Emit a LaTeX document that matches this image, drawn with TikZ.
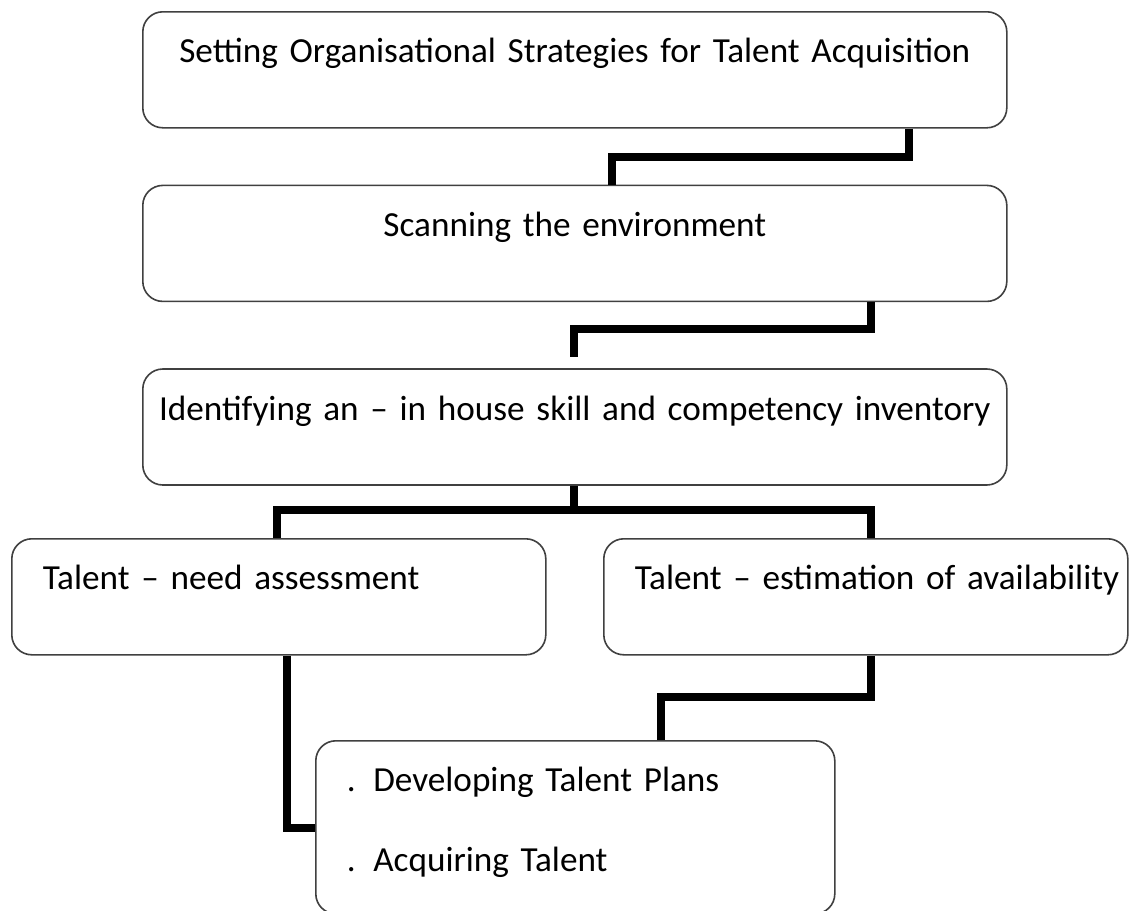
\documentclass[tikz,border=0pt]{standalone}
\usepackage{fontspec}
\setmainfont{Carlito}
\usepackage{tikz}
\usetikzlibrary{positioning}

\begin{document}
\begin{tikzpicture}[x=0.5pt, y=-0.5pt, line join=miter]
        % Estilos para las cajas y las conexiones
        \tikzstyle{stepbox} = [draw=black!75, line width=0.8pt, rounded corners=10pt, inner ysep=0pt, font=\fontsize{17.6}{22}\selectfont, text height=25.5pt, text depth=32.5pt]
        \tikzstyle{wide} = [text width=420pt, inner xsep=6pt, align=center]
        \tikzstyle{side} = [inner xsep=15.5pt, align=left]
        \tikzstyle{link} = [draw, line width=3.7pt]

        \clip (0,0) rectangle (1129,910);
        \fill [white] (0,0) rectangle (1129,910);

        % Nodes
        \node [stepbox, wide, anchor=north west] at (142,11) (box1) {Setting Organisational Strategies for Talent Acquisition};
        \node [stepbox, wide, below=28pt of box1] (box2) {Scanning the environment};
        \node [stepbox, wide, below=33pt of box2] (box3) {\mbox{Identifying an -- in house skill and competency inventory}};
        \node [stepbox, side, text width=236pt, anchor=north west] at (11,538) (box4) {Talent -- need assessment};
        \node [stepbox, side, text width=231pt, anchor=north west] at (603,538) (box5) {\mbox{Talent -- estimation of availability}};
        \node [stepbox, side, text width=228.5pt, text depth=61pt, anchor=north west] at (315,740) (box6) {. Developing Talent Plans\\[18pt]. Acquiring Talent};

        \coordinate (elbow1a) at (909,157);
        \coordinate (elbow1b) at (612,157);
        \coordinate (elbow2a) at (871,329);
        \coordinate (elbow2b) at (574,329);
        \coordinate (end2) at (574,357);
        \coordinate (split) at (574,510);
        \coordinate (elbow3a) at (277,510);
        \coordinate (elbow3b) at (871,510);
        \coordinate (elbow4) at (287,828);
        \coordinate (elbow5a) at (871,697);
        \coordinate (elbow5b) at (661,697);

        % Lines
        \draw [link] (elbow1a |- box1.south) -- (elbow1a) -- (elbow1b) -- (elbow1b |- box2.north);
        \draw [link] (elbow2a |- box2.south) -- (elbow2a) -- (elbow2b) -- (end2);
        \draw [link] (split |- box3.south) -- (split);
        \draw [link] (elbow3a |- box4.north) -- (elbow3a) -- (elbow3b) -- (elbow3b |- box5.north);
        \draw [link] (elbow4 |- box4.south) -- (elbow4) -- (elbow4 -| box6.west);
        \draw [link] (elbow5a |- box5.south) -- (elbow5a) -- (elbow5b) -- (elbow5b |- box6.north);

\end{tikzpicture}
\end{document}
